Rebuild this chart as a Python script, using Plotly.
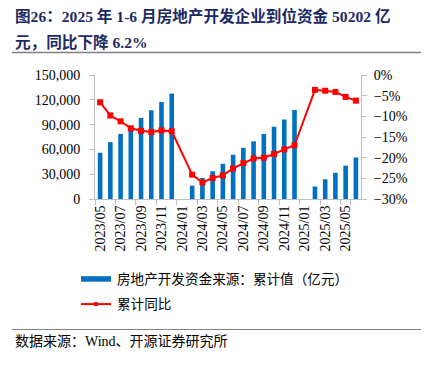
import plotly.graph_objects as go

categories = ["2023/05", "2023/06", "2023/07", "2023/08", "2023/09", "2023/10", "2023/11", "2023/12",
              "2024/01", "2024/02", "2024/03", "2024/04", "2024/05", "2024/06", "2024/07", "2024/08",
              "2024/09", "2024/10", "2024/11", "2024/12", "2025/01", "2025/02", "2025/03", "2025/04",
              "2025/05", "2025/06"]
funds_cum = [55939, 68797, 78794, 87260, 98067, 107345, 117359, 127459,
             None, 16193, 25419, 33565, 42571, 53538, 61900, 69731,
             78706, 87453, 96205, 107661, None, 15146, 23806, 31678,
             40298, 50202]
yoy_cum = [-6.6, -9.8, -11.2, -12.9, -13.5, -13.8, -13.4, -13.6,
           None, -24.1, -26.0, -24.9, -24.3, -22.6, -21.3, -20.2,
           -20.0, -19.1, -18.0, -17.0, None, -3.6, -3.8, -4.1,
           -5.3, -6.2]
tick_labels = categories[::2]

bar_name = "房地产开发资金来源：累计值（亿元）"
line_name = "累计同比"
title_l1 = "图26：2025 年 1-6 月房地产开发企业到位资金 50202 亿"
title_l2 = "元，同比下降 6.2%"
source = "数据来源：Wind、开源证券研究所"

OFF = 8  # page body margin
W, H = 429 - OFF, 366 - OFF
PL, PR, PT, PB = 95, 361, 75, 199.5  # target screen coords of plot area
def px(x):
    return (x - PL) / (PR - PL)
def py(y):
    return (PB - y) / (PB - PT)

NUM = "Liberation Serif"
CJK = "Liberation Serif, Noto Sans CJK SC"
BLUE = "#0070C0"
RED = "#FF0000"
AX = "#BFBFBF"

fig = go.Figure()
fig.add_trace(go.Bar(x=categories, y=funds_cum, name=bar_name, marker_color=BLUE,
                     marker_line_width=0, width=0.45, yaxis="y"))
fig.add_trace(go.Scatter(x=categories, y=yoy_cum, name=line_name, mode="lines+markers",
                         line=dict(color=RED, width=2), marker=dict(symbol="square", size=6, color=RED),
                         connectgaps=True, yaxis="y2"))

fig.update_layout(
    width=W, height=H, showlegend=False,
    margin=dict(l=PL - OFF, r=429 - PR, t=PT - OFF, b=366 - PB, pad=0, autoexpand=False),
    paper_bgcolor="white", plot_bgcolor="white",
    xaxis=dict(type="category", categoryorder="array", categoryarray=categories,
               range=[-0.5, len(categories) - 0.5], automargin=False,
               tickmode="array", tickvals=tick_labels, ticktext=tick_labels,
               tickangle=-90, tickson="boundaries", ticks="outside", ticklen=5, tickcolor=AX,
               showline=True, linecolor=AX, linewidth=1, showgrid=False,
               tickfont=dict(family=NUM, size=14, color="black")),
    yaxis=dict(range=[0, 150000], dtick=30000, tickformat=",", showgrid=False, zeroline=False,
               automargin=False,
               ticks="outside", ticklen=5, tickcolor=AX, showline=True, linecolor=AX, linewidth=1,
               tickfont=dict(family=NUM, size=14, color="black"), ticklabelstandoff=6),
    yaxis2=dict(range=[-30, 0], dtick=5, ticksuffix="%", overlaying="y", side="right",
                automargin=False,
                showgrid=False, zeroline=False, ticks="outside", ticklen=5, tickcolor=AX,
                showline=True, linecolor=AX, linewidth=1,
                tickfont=dict(family=NUM, size=14, color="black"), ticklabelstandoff=4),
)

ann = []
ann.append(dict(text="<b>" + title_l1 + "</b>", x=px(13), y=py(16), xref="paper", yref="paper",
                xanchor="left", yanchor="middle", showarrow=False,
                font=dict(family=CJK, size=15.6, color="#1c2a64")))
ann.append(dict(text="<b>" + title_l2 + "</b>", x=px(13), y=py(42), xref="paper", yref="paper",
                xanchor="left", yanchor="middle", showarrow=False,
                font=dict(family=CJK, size=15.6, color="#1c2a64")))
ann.append(dict(text=bar_name, x=px(115), y=py(280), xref="paper", yref="paper",
                xanchor="left", yanchor="middle", showarrow=False,
                font=dict(family=CJK, size=13.6, color="black")))
ann.append(dict(text=line_name, x=px(115), y=py(305), xref="paper", yref="paper",
                xanchor="left", yanchor="middle", showarrow=False,
                font=dict(family=CJK, size=13.6, color="black")))
ann.append(dict(text=source, x=px(13), y=py(343), xref="paper", yref="paper",
                xanchor="left", yanchor="middle", showarrow=False,
                font=dict(family=CJK, size=14, color="black")))

shapes = []
shapes.append(dict(type="line", xref="paper", yref="paper", x0=px(12), x1=px(424), y0=py(52.5), y1=py(52.5),
                   line=dict(color="#808080", width=1.5)))
shapes.append(dict(type="line", xref="paper", yref="paper", x0=px(12), x1=px(424), y0=py(330.5), y1=py(330.5),
                   line=dict(color="#808080", width=1)))
shapes.append(dict(type="rect", xref="paper", yref="paper", x0=px(81), x1=px(111), y0=py(277), y1=py(282.5),
                   fillcolor=BLUE, line=dict(width=0)))
shapes.append(dict(type="line", xref="paper", yref="paper", x0=px(81), x1=px(111), y0=py(305), y1=py(305),
                   line=dict(color=RED, width=2)))
shapes.append(dict(type="rect", xref="paper", yref="paper", x0=px(94), x1=px(98), y0=py(303), y1=py(307),
                   fillcolor=RED, line=dict(width=0)))

fig.update_layout(annotations=ann, shapes=shapes)
fig.write_html("out.html")
